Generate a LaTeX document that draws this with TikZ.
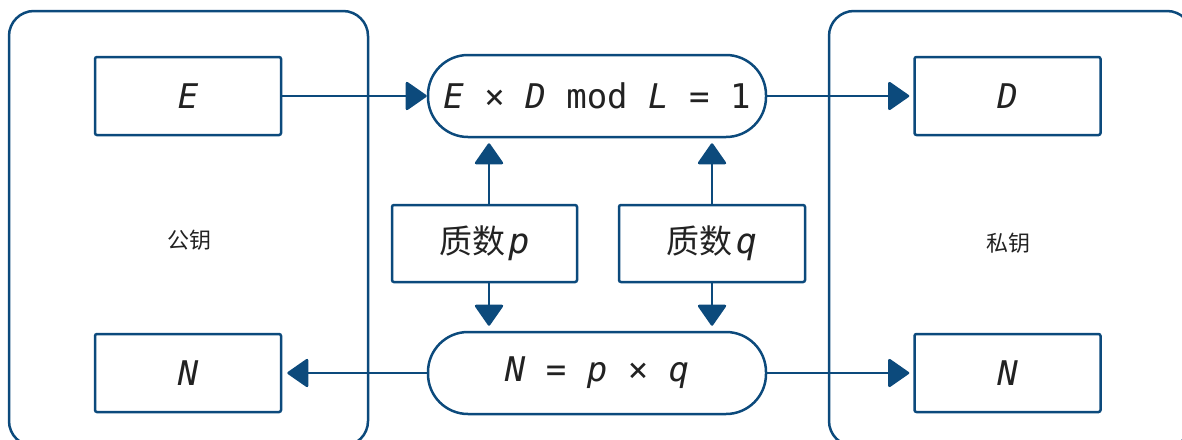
\documentclass[tikz,border=0pt]{standalone}
\usepackage{fontspec}
\newfontfamily\monof{DejaVu Sans Mono}
\newfontfamily\cjk{Noto Sans CJK SC}
\usetikzlibrary{arrows.meta}
\definecolor{bl}{RGB}{12,74,124}
\definecolor{tx}{RGB}{34,34,34}
\begin{document}
\begin{tikzpicture}[x=1pt,y=-1pt,
  box/.style={draw=bl, line width=2.5pt, rounded corners=2pt, minimum width=186pt, minimum height=78pt, inner sep=0pt, text=tx, font=\monof\itshape\fontsize{34}{34}\selectfont},
  pill/.style={draw=bl, line width=2.5pt, rounded corners=40pt, minimum width=338pt, minimum height=82pt, inner sep=0pt, text=tx, font=\monof\fontsize{34}{34}\selectfont},
  pbox/.style={box, font=\cjk\fontsize{33}{33}\selectfont},
  grp/.style={draw=bl, line width=2.5pt, rounded corners=25pt},
  arr/.style={draw=bl, line width=2.5pt, -{Triangle[length=22pt,width=30pt,round]}},
  lab/.style={text=tx, font=\cjk\fontsize{22}{22}\selectfont}]
\useasboundingbox (0,0) rectangle (1182,439);
\clip (0,0) rectangle (1182,439);
\draw[grp] (9,11) rectangle (368,446);
\draw[grp] (829,11) rectangle (1192,446);
\node[lab] (pub) at (189,240) {公钥};
\node[lab] (priv) at (1008,243) {私钥};
\node[box] (E) at (188,96) {E};
\node[box] (D) at (1007.5,96) {D};
\node[box] (NL) at (188,373) {N};
\node[box] (NR) at (1007.5,373) {N};
\node[pill] (top) at (597,96) {\textit{E} × \textit{D} mod \textit{L} = 1};
\node[pill] (bot) at (597,373) {\textit{N} = \textit{p} × \textit{q}};
\node[pbox, minimum width=185pt, minimum height=77pt] (P) at (484.5,243.5) {质数\hspace{3pt}{\monof\itshape\fontsize{35}{35}\selectfont p}};
\node[pbox, minimum width=186pt, minimum height=77pt] (Q) at (712,243.5) {质数\hspace{3pt}{\monof\itshape\fontsize{35}{35}\selectfont q}};
\draw[arr] (E.east) -- (top.west);
\draw[arr, shorten >=4pt] (top.east) -- (D.west);
\draw[arr, shorten >=5pt] (bot.west) -- (NL.east);
\draw[arr, shorten >=4pt] (bot.east) -- (NR.west);
\draw[arr, shorten >=5pt] ([xshift=4.5pt]P.north) -- ([xshift=4.5pt]P.north |- top.south);
\draw[arr, shorten >=5pt] (Q.north) -- (Q.north |- top.south);
\draw[arr, shorten >=5pt] ([xshift=4.5pt]P.south) -- ([xshift=4.5pt]P.south |- bot.north);
\draw[arr, shorten >=5pt] (Q.south) -- (Q.south |- bot.north);
\end{tikzpicture}
\end{document}
